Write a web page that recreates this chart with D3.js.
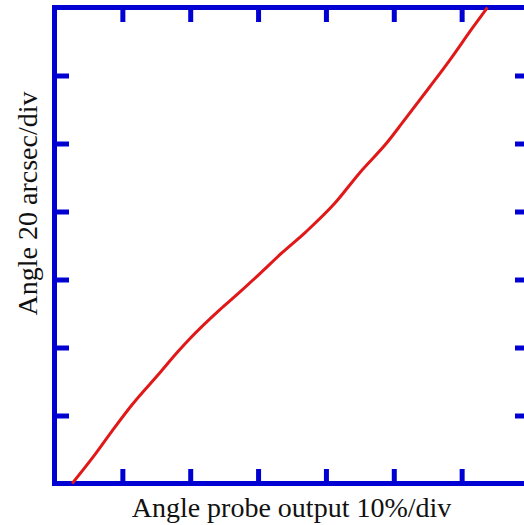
<!DOCTYPE html>
<html>
<head>
<meta charset="utf-8">
<script src="https://cdn.jsdelivr.net/npm/d3@7"></script>
<style>
  body { margin: 0; background: #fff; }
  .label { font-family: "Liberation Serif", "Times New Roman", serif; font-size: 28px; fill: #111; }
</style>
</head>
<body>
<div id="chart"></div>
<script>
// probe output (%) vs angle (arcsec)
var probeOutput = [2.6, 5.5, 8.5, 11.4, 15.5, 18.2, 19.9, 24.3, 26.8, 30.2, 33.5, 37.1, 41.3, 44.9, 49.1, 51.3, 55.2, 58.2, 61.6, 63.8];
var angle       = [0.0, 7.3, 15.5, 23.1, 32.5, 38.8, 42.5, 51.0, 55.4, 61.6, 67.8, 74.1, 82.4, 91.2, 100.5, 106.2, 116.4, 124.4, 134.0, 140.0];
var xTicks = [10, 20, 30, 40, 50, 60];
var yTicks = [20, 40, 60, 80, 100, 120];

var margin = {top: 7.5, left: 54.5},
    width = 475,
    height = 476;

var data = probeOutput.map(function(d, i) { return {x: d, y: angle[i]}; });

var x = d3.scaleLinear().domain([0, 70]).range([0, width]);
var y = d3.scaleLinear().domain([0, 140]).range([height, 0]);

var svg = d3.select("#chart")
    .append("svg")
        .attr("width", 524)
        .attr("height", 525)
    .append("g")
        .attr("transform", "translate(" + margin.left + "," + margin.top + ")");

var blue = "#0000d2";

function styleAxis(g) {
    g.select(".domain").remove();
    g.selectAll(".tick line").attr("stroke", blue).attr("stroke-width", 5);
    g.selectAll(".tick text").remove();
}

svg.append("g")
    .attr("transform", "translate(0," + height + ")")
    .call(d3.axisBottom(x).tickValues(xTicks).tickFormat("").tickSize(-14.5).tickSizeOuter(0))
    .call(styleAxis);

svg.append("g")
    .call(d3.axisTop(x).tickValues(xTicks).tickFormat("").tickSize(-14.5).tickSizeOuter(0))
    .call(styleAxis);

svg.append("g")
    .call(d3.axisLeft(y).tickValues(yTicks).tickFormat("").tickSize(-14.5).tickSizeOuter(0))
    .call(styleAxis);

svg.append("g")
    .attr("transform", "translate(" + width + ",0)")
    .call(d3.axisRight(y).tickValues(yTicks).tickFormat("").tickSize(-14.5).tickSizeOuter(0))
    .call(styleAxis);

// frame
svg.append("rect")
    .attr("x", 0)
    .attr("y", 0)
    .attr("width", width)
    .attr("height", height)
    .attr("fill", "none")
    .attr("stroke", blue)
    .attr("stroke-width", 5);

var line = d3.line()
    .curve(d3.curveMonotoneX)
    .x(function(d) { return x(d.x); })
    .y(function(d) { return y(d.y); });

svg.append("path")
    .attr("d", line(data))
    .attr("fill", "none")
    .attr("stroke", "#e01818")
    .attr("stroke-width", 3);

// axis labels
svg.append("text")
    .attr("class", "label")
    .attr("text-anchor", "middle")
    .attr("x", 237)
    .attr("y", 509.5)
    .text("Angle probe output 10%/div");

svg.append("text")
    .attr("class", "label")
    .attr("text-anchor", "middle")
    .attr("transform", "translate(-17.5,196) rotate(-90)")
    .text("Angle 20 arcsec/div");
</script>
</body>
</html>
